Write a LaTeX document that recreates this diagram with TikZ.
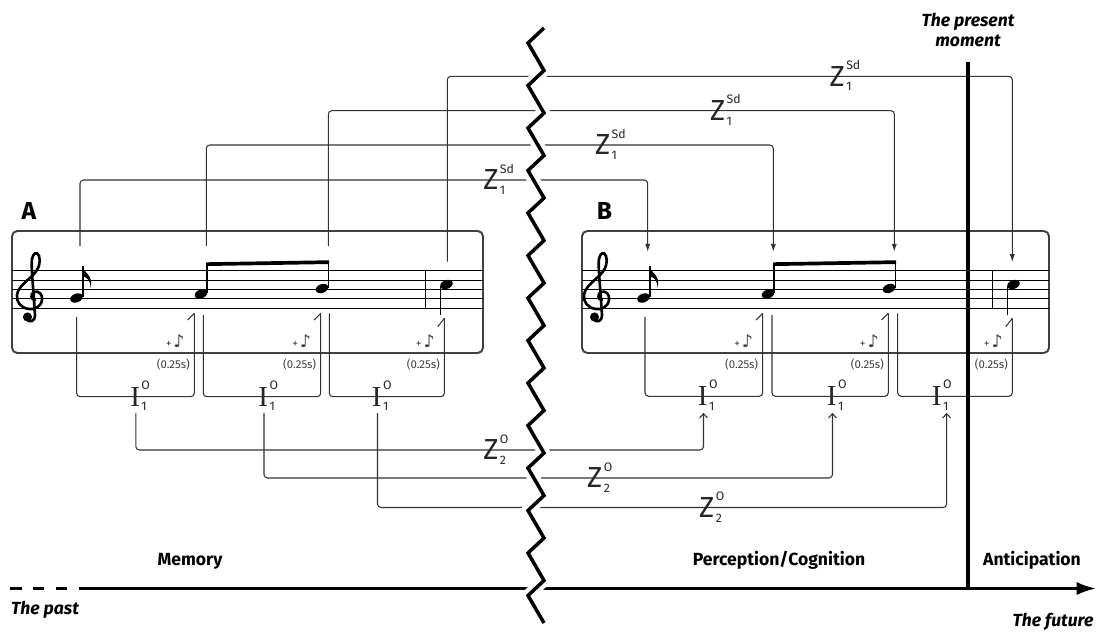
\documentclass[tikz,border=0pt]{standalone}
\usepackage{fontspec}
\setmainfont{Fira Sans}
\newfontfamily\musfont{DejaVu Sans}
\newfontfamily\ifont{Liberation Serif}
\usetikzlibrary{arrows.meta}
\newcommand{\zidx}[2]{\kern0.8pt\rlap{\smash{\raisebox{9.6pt}{\rmfamily\fontsize{7}{7}\selectfont #1}}}\rlap{\smash{\raisebox{-2.6pt}{\rmfamily\fontsize{7}{7}\selectfont #2}}}}

\begin{document}
\begin{tikzpicture}[x=0.02cm,y=-0.02cm,line width=0.6pt,
  conn/.style={draw=black!80,rounded corners=2pt},
  sdarrow/.style={-{Latex[length=4.5pt,width=3pt]}},
  oarrow/.style={-{Straight Barb[length=2.5pt,width=4.5pt]}},
  staffbox/.style={draw=black!75,line width=1.1pt,rounded corners=3pt},
  staffline/.style={line width=0.55pt},
  clef/.style={line width=1.5pt,line cap=round},
  zlab/.style={inner sep=0pt,font=\fontsize{16.5}{16.5}\selectfont,text=black!85},
  ilab/.style={inner sep=0pt,outer sep=4pt,font=\ifont\fontsize{16.5}{16.5}\selectfont,text=black!85},
  dur/.style={inner sep=0pt,font=\fontsize{6.5}{7}\selectfont,text=black!75},
  era/.style={font=\bfseries\fontsize{10}{12}\selectfont},
  timelab/.style={font=\bfseries\itshape\fontsize{10}{11.5}\selectfont},
  panel/.style={font=\bfseries\fontsize{14}{14}\selectfont}]
\useasboundingbox (0,0) rectangle (1098,632);

\draw[staffbox] (12,231) rectangle (483,353);
\draw[staffbox] (582,231) rectangle (1049,353);
\foreach \y in {270.7,280,289.3,298.7,308} {
  \draw[staffline] (12,\y) -- (483,\y);
  \draw[staffline] (582,\y) -- (1049,\y);
}
\node[panel] (pa) at (29,211) {A};
\node[panel] (pb) at (604.5,211) {B};

\foreach \dx in {0,567} {
\begin{scope}[shift={(\dx,0)}]
\draw[clef] (35,300) .. controls (31,300) and (30,294) .. (34,292)
  .. controls (39,290) and (43,295) .. (42,300)
  .. controls (41,307) and (34,310) .. (29,309)
  .. controls (21,308) and (16,302) .. (17,295)
  .. controls (18,287) and (27,281) .. (33,275)
  .. controls (39,269) and (41,262) .. (39,256)
  .. controls (37,251) and (33,253) .. (32,259)
  .. controls (31,266) and (33,285) .. (34,300)
  -- (35,315) .. controls (35,322) and (29,323) .. (27,319);
\fill (27.5,317) circle[radius=2.6pt];
\fill[rotate around={20:(76.5,298)}] (76.5,298) ellipse[x radius=3.7pt,y radius=2.5pt];
\draw[line width=0.8pt] (82.8,296.5) -- (82.8,266);
\fill (82.4,266) .. controls (83.5,273) and (94,275) .. (90.5,288) .. controls (90.5,280) and (87,277.5) .. (82.4,276) -- cycle;
\fill[rotate around={20:(201,294)}] (201,294) ellipse[x radius=3.7pt,y radius=2.5pt];
\draw[line width=0.8pt] (206.9,293) -- (206.9,262.5);
\fill[rotate around={20:(322,288.5)}] (322,288.5) ellipse[x radius=3.7pt,y radius=2.5pt];
\draw[line width=0.8pt] (328.4,287.5) -- (328.4,261);
\fill (206.3,262.3) -- (329,260.3) -- (329,264) -- (206.3,266) -- cycle;
\draw[line width=0.8pt] (425.7,270.7) -- (425.7,308);
\fill[rotate around={20:(446.5,284.5)}] (446.5,284.5) ellipse[x radius=3.7pt,y radius=2.5pt];
\draw[line width=0.8pt] (440.4,285.5) -- (440.4,315);
\end{scope}
}

\coordinate (au1) at (80,246);
\coordinate (au2) at (206.3,246);
\coordinate (au3) at (328.3,246);
\coordinate (au4) at (447.3,261.7);
\coordinate (bu1) at (647.7,251.7);
\coordinate (bu2) at (773.3,251.7);
\coordinate (bu3) at (894.3,251.7);
\coordinate (bu4) at (1012.3,262);
\coordinate (zs1) at (491.7,180);
\coordinate (zs2) at (603.3,145);
\coordinate (zs3) at (718.3,110.7);
\coordinate (zs4) at (838,76.3);
\draw[conn,sdarrow] (au1) |- (zs1) -| (bu1);
\draw[conn,sdarrow] (au2) |- (zs2) -| (bu2);
\draw[conn,sdarrow] (au3) |- (zs3) -| (bu3);
\draw[conn,sdarrow] (au4) |- (zs4) -| (bu4);
\node[zlab] (zl1) at (zs1) {Z\zidx{Sd}{1}};
\node[zlab] (zl2) at (zs2) {Z\zidx{Sd}{1}};
\node[zlab] (zl3) at (zs3) {Z\zidx{Sd}{1}};
\node[zlab] (zl4) at (zs4) {Z\zidx{Sd}{1}};

\coordinate (al1) at (76.7,317);
\coordinate (ar1) at (194.3,313.3);
\coordinate (al2) at (203.3,315);
\coordinate (ar2) at (320.7,313.3);
\coordinate (al3) at (329.3,313.3);
\coordinate (ar3) at (444.3,318.3);
\coordinate (bl1) at (645,317);
\coordinate (br1) at (762.7,313.3);
\coordinate (bl2) at (772,315);
\coordinate (br2) at (888.3,313.3);
\coordinate (bl3) at (897.7,313.3);
\coordinate (br3) at (1012.3,318.3);
\node[ilab] (ia1) at (135.8,396.7) {I\zidx{O}{1}};
\node[ilab] (ia2) at (264,396.7) {I\zidx{O}{1}};
\node[ilab] (ia3) at (377.5,396.7) {I\zidx{O}{1}};
\node[ilab] (ib1) at (703.5,396.3) {I\zidx{O}{1}};
\node[ilab] (ib2) at (832.5,396.3) {I\zidx{O}{1}};
\node[ilab] (ib3) at (937.5,396.3) {I\zidx{O}{1}};
\draw[conn] (al1) |- (ia1.center) -| (ar1);
\draw[conn] (al2) |- (ia2.center) -| (ar2);
\draw[conn] (al3) |- (ia3.center) -| (ar3);
\draw[conn] (bl1) |- (ib1.center) -| (br1);
\draw[conn] (bl2) |- (ib2.center) -| (br2);
\draw[conn] (bl3) |- (ib3.center) -| (br3);
\draw[conn] (ar1) -- ++(-6.6,6.7);
\draw[conn] (ar2) -- ++(-6.6,6.7);
\draw[conn] (ar3) -- ++(-6.6,8.4);
\draw[conn] (br1) -- ++(-6.6,6.7);
\draw[conn] (br2) -- ++(-6.6,6.7);
\draw[conn] (br3) -- ++(-6.6,8.4);
\node[dur] (na1) at (175.3,341) {+\,{\musfont\bfseries\fontsize{10}{10}\selectfont ♪}};
\node[dur] (na2) at (301.7,341) {+\,{\musfont\bfseries\fontsize{10}{10}\selectfont ♪}};
\node[dur] (na3) at (425.3,341) {+\,{\musfont\bfseries\fontsize{10}{10}\selectfont ♪}};
\node[dur] (nb1) at (743.7,341) {+\,{\musfont\bfseries\fontsize{10}{10}\selectfont ♪}};
\node[dur] (nb2) at (869.3,341) {+\,{\musfont\bfseries\fontsize{10}{10}\selectfont ♪}};
\node[dur] (nb3) at (993.3,341) {+\,{\musfont\bfseries\fontsize{10}{10}\selectfont ♪}};
\node[dur] (da1) at (173.3,364) {(0.25s)};
\node[dur] (da2) at (299.7,364) {(0.25s)};
\node[dur] (da3) at (423.3,364) {(0.25s)};
\node[dur] (db1) at (741.7,364) {(0.25s)};
\node[dur] (db2) at (867.3,364) {(0.25s)};
\node[dur] (db3) at (991.3,364) {(0.25s)};

\coordinate (zo1) at (491.7,450);
\coordinate (zo2) at (595.5,478);
\coordinate (zo3) at (707.5,507.5);
\draw[conn,oarrow] (ia1) |- (zo1) -| (ib1);
\draw[conn,oarrow] (ia2) |- (zo2) -| (ib2);
\draw[conn,oarrow] (ia3) |- (zo3) -| ([xshift=5.2pt]ib3.south);
\node[zlab] (zl5) at (zo1) {Z\zidx{O}{2}};
\node[zlab] (zl6) at (zo2) {Z\zidx{O}{2}};
\node[zlab] (zl7) at (zo3) {Z\zidx{O}{2}};

\coordinate (tpast) at (10,588.5);
\coordinate (tsol) at (80,588.5);
\coordinate (tfut) at (1096,588.5);
\draw[line width=1.6pt,dash pattern=on 6.6pt off 6.4pt] (tpast) -- (tsol);
\draw[line width=1.6pt,-{Latex[length=11pt,width=7.5pt]}] (tsol) -- (tfut);

\draw[line width=2pt,line join=miter,preaction={draw,white,line width=7pt}]
  (544,28) -- (528,43) -- (544,70.5) -- (528,85.5) -- (544,113) -- (528,128)
  -- (544,155.5) -- (528,170.5) -- (544,198) -- (528,213) -- (544,240.5)
  -- (528,255.5) -- (544,283) -- (528,298) -- (544,325.5) -- (528,340.5)
  -- (544,368) -- (528,383) -- (544,410.5) -- (528,425.5) -- (544,453)
  -- (528,468) -- (544,495.5) -- (528,510.5) -- (544,538) -- (528,553)
  -- (544,580.5) -- (528,595.5) -- (544,623);

\coordinate (pmt) at (968,62);
\draw[line width=2pt] (pmt) -- (pmt |- tsol);

\node[timelab,align=center] (pmlab) at (968,30) {The present\\moment};
\node[era] (mem) at (190,561) {Memory};
\node[era] (perc) at (779,560) {Perception/Cognition};
\node[era] (anti) at (1032,560) {Anticipation};
\node[timelab] (past) at (45,610) {The past};
\node[timelab] (fut) at (1053,622) {The future};
\end{tikzpicture}
\end{document}
